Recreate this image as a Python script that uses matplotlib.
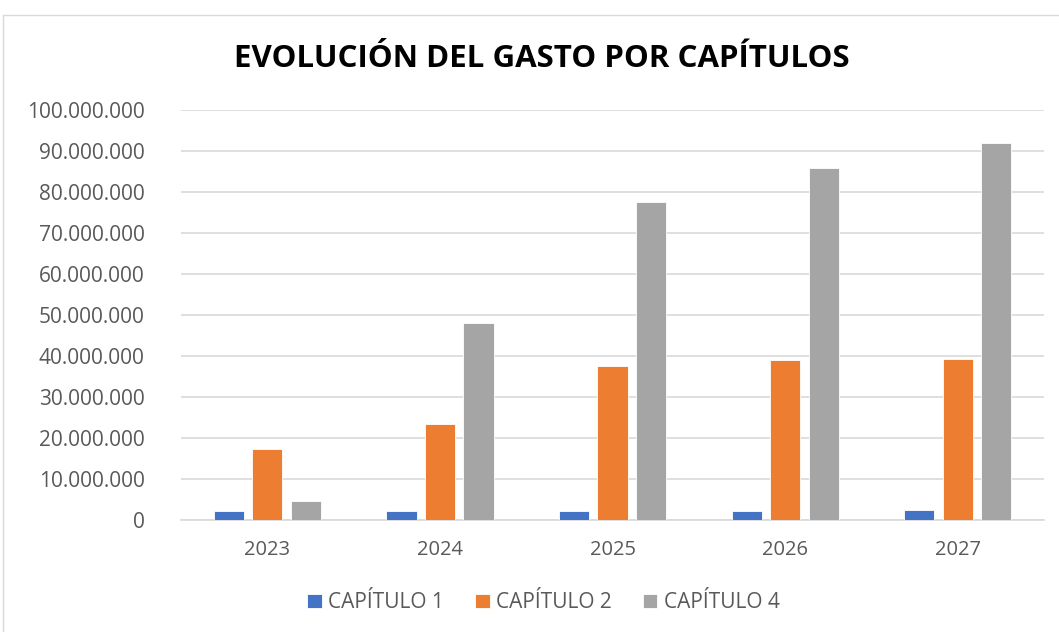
import numpy as np
import matplotlib
matplotlib.use('Agg')
import matplotlib.pyplot as plt
from matplotlib.patches import Rectangle
from matplotlib.ticker import FuncFormatter, MultipleLocator

# values (euros)
years = ['2023', '2024', '2025', '2026', '2027']
capitulo_1 = [2.2e6, 2.2e6, 2.3e6, 2.3e6, 2.4e6]
capitulo_2 = [17.4e6, 23.4e6, 37.6e6, 39.0e6, 39.3e6]
capitulo_4 = [4.6e6, 48.1e6, 77.6e6, 85.9e6, 92.0e6]

series = [('CAPÍTULO 1', capitulo_1, '#4472C4'),
          ('CAPÍTULO 2', capitulo_2, '#ED7D31'),
          ('CAPÍTULO 4', capitulo_4, '#A5A5A5')]

plt.rcParams['font.family'] = ['Open Sans', 'DejaVu Sans']

fig = plt.figure(figsize=(10.59, 6.32), dpi=100)
# chart frame like the Excel chart area
fig.patches.append(Rectangle((3 / 1059, -0.05), 1.1, 0.976 + 0.05,
                             transform=fig.transFigure, fill=False,
                             edgecolor='#D9D9D9', linewidth=1.0))

ax = fig.add_axes([0.1709, 0.177, 0.815, 0.6485])

x = np.arange(len(years))
width = 0.175
step = 0.223
for i, (name, vals, color) in enumerate(series):
    ax.bar(x + (i - 1) * step, vals, width, color=color, label=name,
           edgecolor='white', linewidth=0.6, zorder=3)

ax.set_xlim(-0.5, len(years) - 0.5)
ax.set_ylim(0, 100e6)
ax.yaxis.set_major_locator(MultipleLocator(10e6))
ax.yaxis.set_major_formatter(FuncFormatter(lambda v, p: f'{int(v):,}'.replace(',', '.')))
ax.set_xticks(x)
ax.set_xticklabels(years)
ax.grid(axis='y', color='#D9D9D9', linewidth=1.2, zorder=0)
ax.tick_params(length=0, labelsize=14.5, colors='#595959')
ax.tick_params(axis='x', pad=14)
ax.tick_params(axis='y', labelsize=15, pad=26)
for sp in ['top', 'right', 'left']:
    ax.spines[sp].set_visible(False)
ax.spines['bottom'].set_color('#D9D9D9')
ax.spines['bottom'].set_linewidth(1.2)

fig.text(0.512, 0.907, 'EVOLUCIÓN DEL GASTO POR CAPÍTULOS', ha='center', va='center',
         fontsize=22.5, fontweight='bold', color='black')

fig.legend(loc='center', bbox_to_anchor=(0.513, 0.046), ncol=3, frameon=False,
           fontsize=15, labelcolor='#595959', handlelength=0.7, handleheight=0.7,
           handletextpad=0.3, columnspacing=1.5)

fig.savefig('out.png', dpi=100)
